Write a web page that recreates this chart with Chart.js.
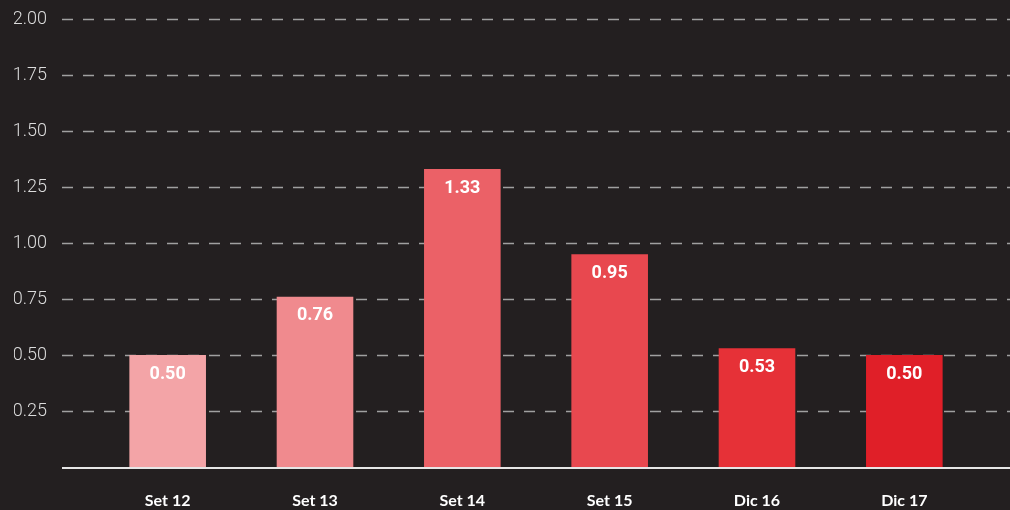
<!DOCTYPE html>
<html>
<head>
<meta charset="utf-8">
<script src="https://cdn.jsdelivr.net/npm/chart.js@4"></script>
<style>
  html, body { margin: 0; padding: 0; background: #231f20; }
  #wrap { width: 1010px; height: 510px; }
</style>
</head>
<body>
<div id="wrap"><canvas id="chart" width="1010" height="510"></canvas></div>
<script>
// --- data ---
const categories = ['Set 12', 'Set 13', 'Set 14', 'Set 15', 'Dic 16', 'Dic 17'];
const values = [0.50, 0.76, 1.33, 0.95, 0.53, 0.50];
const barColors = ['#f3a4a7', '#f08a8e', '#eb6167', '#e8484f', '#e63137', '#e01f28'];
const yTicks = [0.25, 0.5, 0.75, 1.0, 1.25, 1.5, 1.75, 2.0];

// grid + axis line run wider than the bar area
const gridPlugin = {
    id: 'wideGrid',
    beforeDatasetsDraw(chart) {
        const ctx = chart.ctx;
        const y = chart.scales.y;
        ctx.save();
        ctx.strokeStyle = '#a0a0a0';
        ctx.lineWidth = 1.6;
        ctx.setLineDash([11, 10]);
        yTicks.forEach(v => {
            const py = Math.round(y.getPixelForValue(v)) + 0.5;
            ctx.beginPath();
            ctx.moveTo(62, py);
            ctx.lineTo(chart.width, py);
            ctx.stroke();
        });
        ctx.restore();
    },
    afterDatasetsDraw(chart) {
        const ctx = chart.ctx;
        const y = chart.scales.y;
        ctx.save();
        // base line
        ctx.strokeStyle = '#e6e6e6';
        ctx.lineWidth = 2;
        const base = y.getPixelForValue(0) + 1;
        ctx.beginPath();
        ctx.moveTo(62, base);
        ctx.lineTo(chart.width, base);
        ctx.stroke();

        // value labels inside bars
        ctx.fillStyle = '#ffffff';
        ctx.font = 'bold 18px Roboto';
        ctx.textAlign = 'center';
        ctx.textBaseline = 'middle';
        chart.getDatasetMeta(0).data.forEach((bar, i) => {
            ctx.fillText(values[i].toFixed(2), bar.x, bar.y + 19);
        });
        ctx.restore();
    }
};

Promise.all([
    document.fonts.load('bold 18px Roboto'),
    document.fonts.load('300 18px Roboto'),
    document.fonts.load('bold 16px Lato')
]).catch(() => {}).then(() => {
    new Chart(document.getElementById('chart').getContext('2d'), {
        type: 'bar',
        data: {
            labels: categories,
            datasets: [{
                data: values,
                backgroundColor: barColors,
                borderWidth: 0,
                barPercentage: 0.52,
                categoryPercentage: 1
            }]
        },
        options: {
            responsive: false,
            animation: false,
            layout: { padding: { top: 19, left: 14, right: 32, bottom: 0 } },
            plugins: { legend: { display: false }, tooltip: { enabled: false } },
            scales: {
                x: {
                    grid: { display: false, drawTicks: false },
                    border: { display: false },
                    afterFit(scale) { scale.height = 43; },
                    ticks: {
                        color: '#ffffff',
                        padding: 24,
                        font: { family: 'Lato', size: 16, weight: 'bold' }
                    }
                },
                y: {
                    min: 0,
                    max: 2,
                    grid: { display: false, drawTicks: false },
                    border: { display: false },
                    afterFit(scale) {
                        scale.width = 80;
                        scale.paddingTop = 0;
                        scale.paddingBottom = 0;
                    },
                    ticks: {
                        stepSize: 0.25,
                        color: '#dcdcdc',
                        padding: 47,
                        font: { family: 'Roboto', size: 18, weight: '300' },
                        callback: v => v === 0 ? '' : v.toFixed(2)
                    }
                }
            }
        },
        plugins: [gridPlugin]
    });
});
</script>
</body>
</html>
